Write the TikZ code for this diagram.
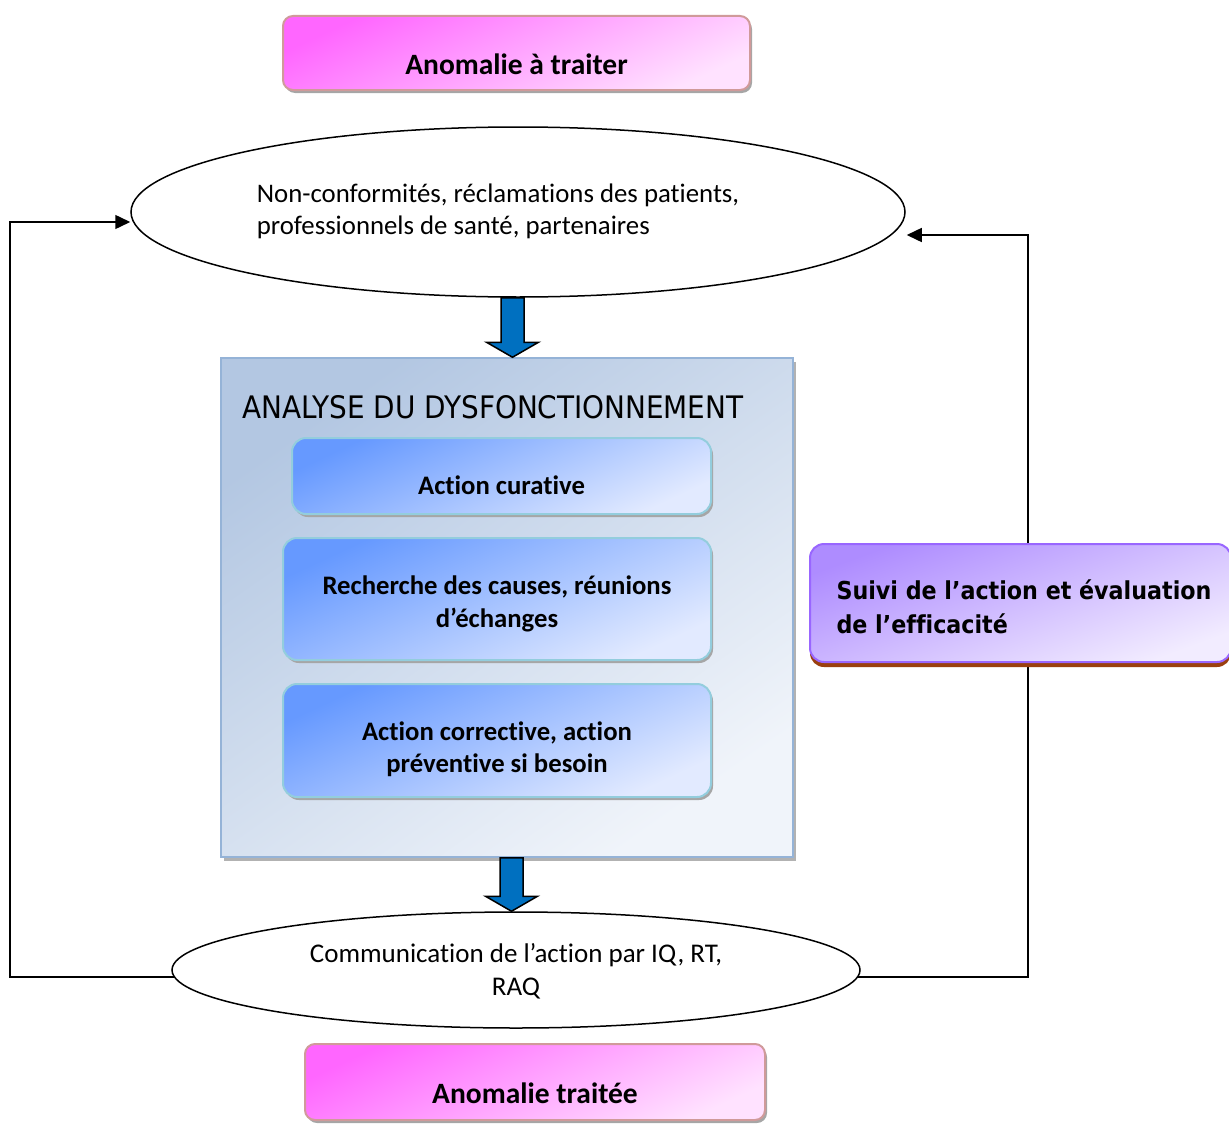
\documentclass[tikz,border=0pt]{standalone}
\usepackage{fontspec}
\setmainfont{Carlito}[Ligatures={NoCommon}]
\newfontfamily\tahfont{DejaVu Sans Condensed}[Ligatures={NoCommon}]
\usetikzlibrary{arrows.meta,shapes.geometric,calc,shadows}
\pgfdeclarelayer{bg}
\pgfsetlayers{bg,main}

\definecolor{pinkA}{HTML}{FF66FF}
\definecolor{pinkB}{HTML}{FFE2FF}
\definecolor{pinkLine}{HTML}{D09A9A}
\definecolor{boxA}{HTML}{B3C7E2}
\definecolor{boxB}{HTML}{F0F4FA}
\definecolor{boxLine}{HTML}{95B3D7}
\definecolor{inA}{HTML}{6699FF}
\definecolor{inB}{HTML}{E2EAFF}
\definecolor{inLine}{HTML}{93CDDD}
\definecolor{purA}{HTML}{AE8CFF}
\definecolor{purB}{HTML}{F2ECFF}
\definecolor{purLine}{HTML}{9966FF}
\definecolor{purShadow}{HTML}{9A4010}
\definecolor{flowBlue}{HTML}{0070C0}

\tikzset{
  x=1pt, y=-1pt,
  boldtxt/.style={font=\bfseries\fontsize{#1}{#1}\selectfont, text=black},
  pinkbox/.style={rounded corners=10pt, draw=pinkLine, line width=2pt,
    top color=pinkA, bottom color=pinkB, shading angle=25,
    drop shadow={shadow xshift=2pt, shadow yshift=-3pt, fill=gray!70, opacity=1},
    inner sep=0pt},
  innerbox/.style={rounded corners=14pt, draw=inLine, line width=2pt,
    top color=inA, bottom color=inB, shading angle=25,
    drop shadow={shadow xshift=2pt, shadow yshift=-3pt, fill=gray!70, opacity=1},
    inner sep=0pt},
  bigbox/.style={draw=boxLine, line width=1.5pt,
    top color=boxA, bottom color=boxB, shading angle=35,
    drop shadow={shadow xshift=3pt, shadow yshift=-4pt, fill=gray!60, opacity=1},
    inner sep=0pt},
  suivibox/.style={rounded corners=14pt, draw=purLine, line width=2pt,
    top color=purA, bottom color=purB, shading angle=20,
    drop shadow={shadow xshift=0pt, shadow yshift=-5pt, fill=purShadow, opacity=1},
    inner sep=0pt},
  oval/.style={ellipse, draw=black, line width=1.5pt, fill=white, inner sep=0pt},
  conn/.style={draw=black, line width=1.5pt, -{Triangle[length=15pt,width=14pt]}},
  blockarr/.style={draw=black, line width=1.5pt, fill=flowBlue, line join=miter},
}

% vertical block arrow from the first node anchor down to the second
\newcommand\blockarrow[2]{%
  \draw[blockarr] let \p1=(#1), \p2=(#2), \n1={(\x1+\x2)/2} in
    (\n1-11.5pt,\y1) -- (\n1+11.5pt,\y1) -- (\n1+11.5pt,\y2+15pt)
    -- (\n1+26pt,\y2+15pt) -- (\n1,\y2) -- (\n1-26pt,\y2+15pt)
    -- (\n1-11.5pt,\y2+15pt) -- cycle;}

\begin{document}
\begin{tikzpicture}
\useasboundingbox (0,0) rectangle (1229,1124);

% entry and exit of the process
\node[pinkbox, minimum width=467pt, minimum height=74pt,
  label={[boldtxt=29.5, yshift=-11pt]center:Anomalie à traiter}] (top) at (516.5,53) {};
\node[pinkbox, minimum width=460pt, minimum height=76pt,
  label={[boldtxt=29.5, yshift=-11pt]center:Anomalie traitée}] (bottom) at (535,1082) {};

% sources of anomalies
\node[oval, minimum width=774pt, minimum height=170pt,
  label={[font=\fontsize{26.8}{32}\selectfont, align=left, xshift=-20pt, yshift=1pt]center:Non-conformités, réclamations des patients,\\professionnels de santé, partenaires}] (src) at (518,212) {};

% analysis block
\node[bigbox, minimum width=572pt, minimum height=499pt] (big) at (507,607.5) {};
\node[font=\tahfont\fontsize{31}{31}\selectfont, anchor=base west, inner sep=0pt] (title) at (242,418) {ANALYSE DU DYSFONCTIONNEMENT};

\node[innerbox, minimum width=419pt, minimum height=76pt,
  label={[boldtxt=26.7, yshift=-9pt]center:Action curative}] (cur) at (501.5,476) {};
\node[innerbox, minimum width=428pt, minimum height=122pt,
  label={[align=center, yshift=-4.5pt, font=\bfseries\fontsize{26.7}{33}\selectfont]center:Recherche des causes, réunions\\d’échanges}] (causes) at (497,599) {};
\node[innerbox, minimum width=428pt, minimum height=113pt,
  label={[align=center, yshift=-8.5pt, font=\bfseries\fontsize{26.7}{32}\selectfont]center:Action corrective, action\\préventive si besoin}] (corr) at (497,740.5) {};

% communication
\node[oval, minimum width=688pt, minimum height=116pt,
  label={[font=\fontsize{27}{33}\selectfont, align=center, yshift=-1.5pt]center:Communication de l’action par IQ, RT,\\RAQ}] (comm) at (516,970) {};

% follow-up
\node[suivibox, minimum width=421pt, minimum height=118pt,
  label={[font=\tahfont\bfseries\fontsize{24.7}{34}\selectfont, align=left, anchor=west, xshift=24pt, yshift=-4pt]west:Suivi de l’action et évaluation\\de l’efficacité}] (suivi) at (1020.5,603) {};

% flow arrows
\blockarrow{src.south}{big.north}
\blockarrow{big.south}{comm.north}

% feedback loops
\coordinate (lx) at (10,600);
\coordinate (rx) at (1028,600);
\begin{pgfonlayer}{bg}
\draw[conn] ([xshift=2.5pt, yshift=-7pt]comm.west) -| (lx) |- ([yshift=-10pt]src.west);
\draw[conn] ([xshift=-2.5pt, yshift=-7pt]comm.east) -| (rx) |- ([xshift=1pt, yshift=-23pt]src.east);
\end{pgfonlayer}
\end{tikzpicture}
\end{document}
